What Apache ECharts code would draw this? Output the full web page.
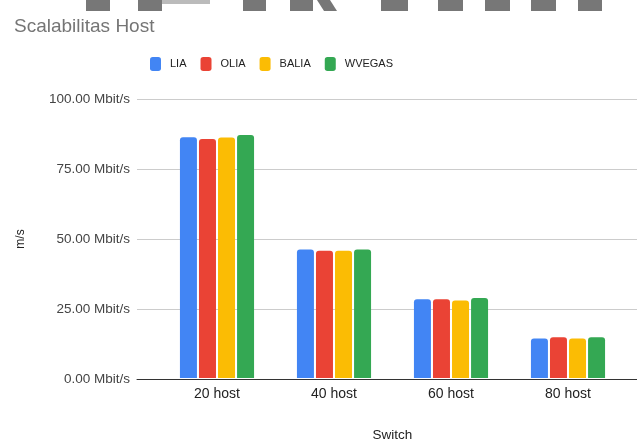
<!DOCTYPE html>
<html>
<head>
<meta charset="utf-8">
<script src="https://cdn.jsdelivr.net/npm/echarts@6/dist/echarts.min.js"></script>
<style>
  html, body { margin: 0; padding: 0; background: #fff; }
  #chart { width: 637px; height: 447px; }
</style>
</head>
<body>
<div id="chart"></div>
<script>
// data
let categories = ['20 host', '40 host', '60 host', '80 host'];
let seriesNames = ['LIA', 'OLIA', 'BALIA', 'WVEGAS'];
let lia = [86.3, 46.1, 28.2, 14.2];
let olia = [85.7, 45.6, 28.2, 14.6];
let balia = [86.2, 45.6, 27.8, 14.2];
let wvegas = [87.1, 46.1, 28.7, 14.6];
let yTicks = [0, 25, 50, 75, 100];

let colors = ['#4285f4', '#ea4335', '#fbbc04', '#34a853'];
let values = [lia, olia, balia, wvegas];

let dom = document.getElementById('chart');
let myChart = echarts.init(dom);
let font = '"Liberation Sans", Arial, sans-serif';

// grey scraps along the top edge of the screenshot
let scraps = [[86, 24], [138, 24], [243, 23], [290, 23], [381, 27], [438, 25], [485, 25], [531, 25], [578, 24]];
let graphics = scraps.map(function (s) {
    return { type: 'rect', left: s[0], top: 0, shape: { width: s[1], height: 11 }, style: { fill: '#777' } };
});
graphics.push({ type: 'rect', left: 162, top: 0, shape: { width: 48, height: 4 }, style: { fill: '#bbb' } });
graphics.push({ type: 'polygon', shape: { points: [[317, 0], [330, 0], [337, 11], [324, 11]] }, style: { fill: '#777' } });

let option = {
    animation: false,
    textStyle: { fontFamily: font },
    title: {
        text: 'Scalabilitas Host',
        left: 9,
        top: 12,
        textStyle: { fontFamily: font, fontSize: 19, fontWeight: 'normal', color: '#757575' }
    },
    legend: {
        data: seriesNames,
        left: 150,
        top: 57,
        padding: 0,
        icon: 'roundRect',
        itemWidth: 11,
        itemHeight: 14,
        itemGap: 14,
        textStyle: { fontFamily: font, fontSize: 11, color: '#222', padding: [0, 0, 0, 4] }
    },
    graphic: graphics,
    grid: [
        { left: 137, right: 0, top: 99, bottom: 68 },
        { left: 158.5, width: 468, top: 99, bottom: 68 }
    ],
    xAxis: [
        {
            gridIndex: 0, type: 'value', min: 0, max: 1,
            axisLabel: { show: false }, axisTick: { show: false }, splitLine: { show: false },
            axisLine: { show: true, lineStyle: { color: '#333', width: 1 } }
        },
        {
            gridIndex: 1, type: 'category', data: categories,
            axisLine: { show: false }, axisTick: { show: false },
            axisLabel: { fontFamily: font, fontSize: 14, color: '#222', margin: 9 },
            name: 'Switch', nameLocation: 'middle', nameGap: 50,
            nameTextStyle: { fontFamily: font, fontSize: 13.5, color: '#222' }
        }
    ],
    yAxis: [
        {
            gridIndex: 0, type: 'value', min: yTicks[0], max: yTicks[yTicks.length - 1], interval: 25,
            axisLine: { show: false }, axisTick: { show: false },
            axisLabel: {
                fontFamily: font, fontSize: 13.5, color: '#444', margin: 7,
                formatter: function (v) { return v.toFixed(2) + ' Mbit/s'; }
            },
            splitLine: { lineStyle: { color: '#ccc', width: 1 } },
            name: 'm/s', nameLocation: 'middle', nameGap: 110,
            nameTextStyle: { fontFamily: font, fontSize: 12, color: '#222' }
        },
        {
            gridIndex: 1, type: 'value', min: 0, max: 100, show: false
        }
    ],
    series: seriesNames.map(function (name, i) {
        return {
            name: name,
            type: 'bar',
            xAxisIndex: 1,
            yAxisIndex: 1,
            data: values[i],
            barWidth: 17,
            barGap: '12%',
            barCategoryGap: '37%',
            itemStyle: { color: colors[i], borderRadius: [3, 3, 0, 0] }
        };
    }),
    color: colors
};

if (option && typeof option === 'object') {
    myChart.setOption(option, true);
    window.addEventListener('resize', function () {
        myChart.resize();
    });
}
</script>
</body>
</html>
